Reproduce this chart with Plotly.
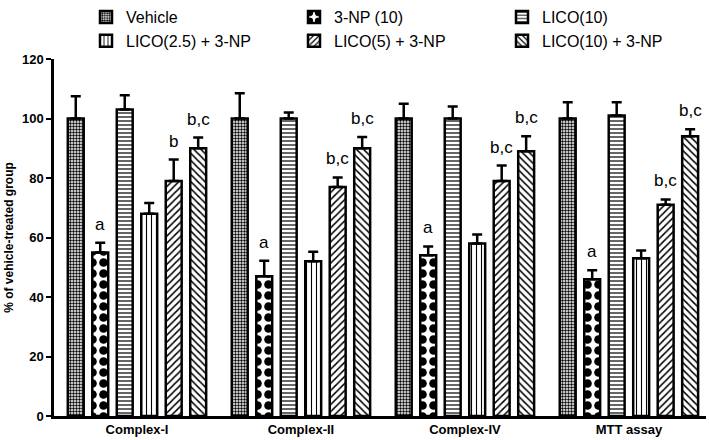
import plotly.graph_objects as go

categories = ["Complex-I", "Complex-II", "Complex-IV", "MTT assay"]
series_names = ["Vehicle", "3-NP (10)", "LICO(10)", "LICO(2.5) + 3-NP", "LICO(5) + 3-NP", "LICO(10) + 3-NP"]

vehicle = [100, 100, 100, 100]
np10 = [55, 47, 54, 46]
lico10 = [103, 100, 100, 101]
lico25_np = [68, 52, 58, 53]
lico5_np = [79, 77, 79, 71]
lico10_np = [90, 90, 89, 94]

vehicle_err = [7.5, 8.5, 5.0, 5.5]
np10_err = [3.2, 5.2, 3.0, 3.0]
lico10_err = [4.8, 2.0, 4.0, 4.5]
lico25_np_err = [3.6, 3.2, 3.0, 2.6]
lico5_np_err = [7.2, 3.2, 5.2, 1.8]
lico10_np_err = [3.6, 3.8, 5.0, 2.4]

sig_labels = [
    ["", "", "", ""],
    ["a", "a", "a", "a"],
    ["", "", "", ""],
    ["", "", "", ""],
    ["b", "b,c", "b,c", "b,c"],
    ["b,c", "b,c", "b,c", "b,c"],
]

values = [vehicle, np10, lico10, lico25_np, lico5_np, lico10_np]
errors = [vehicle_err, np10_err, lico10_err, lico25_np_err, lico5_np_err, lico10_np_err]

patterns = [
    dict(shape=".", size=3, solidity=0.5),
    dict(shape=".", size=11, solidity=0.48),
    dict(shape="-", size=4, solidity=0.3),
    dict(shape="|", size=5, solidity=0.22),
    dict(shape="/", size=5, solidity=0.3),
    dict(shape="\\", size=5, solidity=0.3),
]

W, H = 709, 440
SANS = "Liberation Sans, Arial, sans-serif"
BARGAP = 0.104

x_idx = list(range(len(categories)))
fig = go.Figure()
for i, (name, vals, errs, pat) in enumerate(zip(series_names, values, errors, patterns)):
    fig.add_trace(go.Bar(
        name=name, x=x_idx, y=vals,
        marker=dict(color="white", line=dict(color="black", width=2.5),
                    pattern=dict(fgcolor="black", bgcolor="white", fgopacity=1,
                                 fillmode="overlay", **pat)),
        error_y=dict(type="data", symmetric=False, array=errs, arrayminus=[0] * len(errs),
                     color="black", thickness=2.5, width=5),
    ))

n = len(series_names)
slot = (1 - BARGAP) / n
for i in range(n):
    for g in range(len(categories)):
        lab = sig_labels[i][g]
        if lab:
            fig.add_annotation(
                x=g + (i - (n - 1) / 2) * slot, y=values[i][g] + errors[i][g],
                text=lab, showarrow=False, yanchor="bottom", yshift=7,
                font=dict(family=SANS, size=17, color="black"),
            )

fig.update_layout(
    width=W, height=H,
    margin=dict(l=54, r=3, t=59, b=24, autoexpand=False),
    paper_bgcolor="white", plot_bgcolor="white",
    barmode="group", bargap=BARGAP, bargroupgap=0.35,
    showlegend=True,
    legend=dict(orientation="h", xref="container", yref="container",
                x=86 / W, y=1.0, xanchor="left", yanchor="top",
                entrywidth=163, traceorder="normal", bgcolor="rgba(0,0,0,0)",
                font=dict(family=SANS, size=16, color="black")),
    xaxis=dict(range=[-0.506, 3.47], tickmode="array", tickvals=x_idx, ticktext=categories,
               showline=True, linecolor="black", linewidth=2.5, ticks="", showgrid=False,
               zeroline=False, automargin=False,
               tickfont=dict(family=SANS, size=13, color="black", weight="bold")),
    yaxis=dict(range=[0, 120], tickvals=[0, 20, 40, 60, 80, 100, 120],
               showline=True, linecolor="black", linewidth=2.5, ticks="outside",
               ticklen=5, tickwidth=2, tickcolor="black", showgrid=False, zeroline=False,
               automargin=False,
               tickfont=dict(family=SANS, size=13, color="black", weight="bold"),
               title=dict(text="% of vehicle-treated group", standoff=6,
                          font=dict(family=SANS, size=12, color="black", weight="bold"))),
)

fig.write_html("out.html", config={"displayModeBar": False},
               post_script="document.body.style.margin='0';")
